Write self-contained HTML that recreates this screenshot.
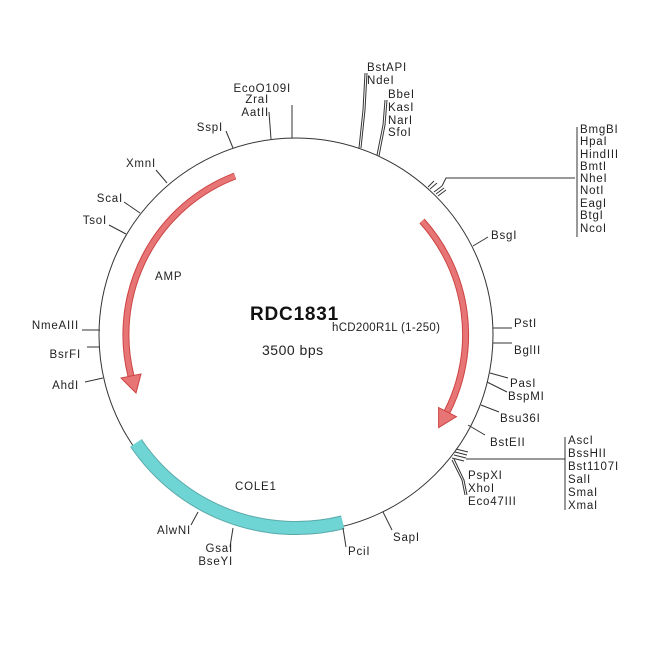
<!DOCTYPE html>
<html><head><meta charset="utf-8"><style>
html,body{margin:0;padding:0;background:#fff;}
svg{display:block;font-family:"Liberation Sans",sans-serif;}
text{font-size:11.5px;fill:#222;letter-spacing:0.8px;}
</style></head><body>
<svg width="650" height="650" viewBox="0 0 650 650" xmlns="http://www.w3.org/2000/svg">
<rect width="650" height="650" fill="#fff"/>
<circle cx="296" cy="335" r="197" fill="none" stroke="#333" stroke-width="1"/>
<path d="M136 443 A193 193 0 0 0 342.7 522.3" fill="none" stroke="#5aa9a9" stroke-width="14"/>
<path d="M136 443 A193 193 0 0 0 342.7 522.3" fill="none" stroke="#6fd4d4" stroke-width="12"/>
<path d="M235 176 A170 170 0 0 0 131 376" fill="none" stroke="#c44" stroke-width="7"/>
<path d="M235 176 A170 170 0 0 0 131 376" fill="none" stroke="#e87575" stroke-width="5"/>
<polygon points="141,374 121,378 136,393" fill="#e87575" stroke="#c44" stroke-width="1"/>
<path d="M422 221 A170 170 0 0 1 447 412" fill="none" stroke="#c44" stroke-width="7"/>
<path d="M422 221 A170 170 0 0 1 447 412" fill="none" stroke="#e87575" stroke-width="5"/>
<polygon points="438.6,407.6 456.4,416.7 438.6,427.6" fill="#e87575" stroke="#c44" stroke-width="1"/>

<g stroke="#333" stroke-width="1" fill="none">
<line x1="292" y1="138" x2="292" y2="105"/>
<line x1="271" y1="139" x2="269" y2="112"/>
<line x1="233" y1="148" x2="226" y2="131"/>
<polyline points="359,148 363,110 365,73"/>
<polyline points="361,148 365,110 367,73"/>
<polyline points="377,155 383,125 385,100"/>
<polyline points="379,156 385,125 387,100"/>
<line x1="428" y1="187" x2="434" y2="181"/>
<line x1="430" y1="189" x2="437" y2="183"/>
<line x1="434" y1="192" x2="442" y2="186"/>
<line x1="436" y1="194" x2="444" y2="188"/>
<line x1="438" y1="196" x2="446" y2="190"/>
<polyline points="442,186 446,178 575,178"/>
<line x1="577" y1="127" x2="577" y2="237"/>
<line x1="473" y1="246" x2="488" y2="237"/>
<line x1="493" y1="328" x2="512" y2="328"/>
<line x1="493" y1="343" x2="512" y2="343"/>
<line x1="490" y1="373" x2="508" y2="378"/>
<line x1="487" y1="382" x2="507" y2="392"/>
<line x1="481" y1="405" x2="499" y2="412"/>
<line x1="468" y1="425" x2="485" y2="435"/>
<line x1="456" y1="449" x2="468" y2="452"/>
<line x1="455" y1="452" x2="467" y2="455"/>
<line x1="454" y1="455" x2="466" y2="458"/>
<line x1="452" y1="458" x2="464" y2="461"/>
<polyline points="466,459 565,459"/>
<line x1="565" y1="437" x2="565" y2="510"/>
<polyline points="452,460 462,480 465,495"/>
<polyline points="454,459 464,480 467,495"/>
<line x1="383" y1="512" x2="392" y2="530"/>
<line x1="343" y1="528" x2="346" y2="547"/>
<line x1="233" y1="528" x2="230" y2="547"/>
<line x1="198" y1="512" x2="191" y2="525"/>
<line x1="100" y1="330" x2="82" y2="330"/>
<line x1="100" y1="347" x2="87" y2="347"/>
<line x1="103" y1="378" x2="85" y2="382"/>
<line x1="126" y1="234" x2="109" y2="225"/>
<line x1="140" y1="213" x2="124" y2="202"/>
<line x1="167" y1="183" x2="156" y2="170"/>
</g>

<g text-anchor="end">
<text x="291" y="92">EcoO109I</text>
<text x="269" y="103">ZraI</text>
<text x="269" y="116">AatII</text>
<text x="223" y="131">SspI</text>
<text x="79" y="329">NmeAIII</text>
<text x="81" y="358">BsrFI</text>
<text x="79" y="389">AhdI</text>
<text x="107" y="224">TsoI</text>
<text x="123" y="202">ScaI</text>
<text x="156" y="167">XmnI</text>
<text x="233" y="552">GsaI</text>
<text x="233" y="565">BseYI</text>
<text x="191" y="534">AlwNI</text>
</g>
<g>
<text x="367" y="71">BstAPI</text>
<text x="367" y="84">NdeI</text>
<text x="388" y="98">BbeI</text>
<text x="388" y="111">KasI</text>
<text x="388" y="124">NarI</text>
<text x="388" y="136">SfoI</text>
<text x="580" y="133">BmgBI</text>
<text x="580" y="145">HpaI</text>
<text x="580" y="158">HindIII</text>
<text x="580" y="170">BmtI</text>
<text x="580" y="182">NheI</text>
<text x="580" y="194">NotI</text>
<text x="580" y="207">EagI</text>
<text x="580" y="219">BtgI</text>
<text x="580" y="232">NcoI</text>
<text x="491" y="239">BsgI</text>
<text x="514" y="327">PstI</text>
<text x="514" y="354">BglII</text>
<text x="510" y="387">PasI</text>
<text x="508" y="400">BspMI</text>
<text x="500" y="422">Bsu36I</text>
<text x="490" y="446">BstEII</text>
<text x="568" y="444">AscI</text>
<text x="568" y="457">BssHII</text>
<text x="568" y="470">Bst1107I</text>
<text x="568" y="483">SalI</text>
<text x="568" y="496">SmaI</text>
<text x="568" y="509">XmaI</text>
<text x="468" y="479">PspXI</text>
<text x="468" y="492">XhoI</text>
<text x="468" y="505">Eco47III</text>
<text x="393" y="541">SapI</text>
<text x="348" y="555">PciI</text>
<text x="155" y="280">AMP</text>
<text x="235" y="490">COLE1</text>
<text x="332" y="331" style="letter-spacing:0.3px">hCD200R1L (1-250)</text>
</g>
<text x="250" y="320" style="font-size:19px;font-weight:bold;fill:#111;letter-spacing:0.8px">RDC1831</text>
<text x="262" y="355" style="font-size:14px;fill:#222;letter-spacing:0.5px">3500 bps</text>
</svg>
</body></html>
